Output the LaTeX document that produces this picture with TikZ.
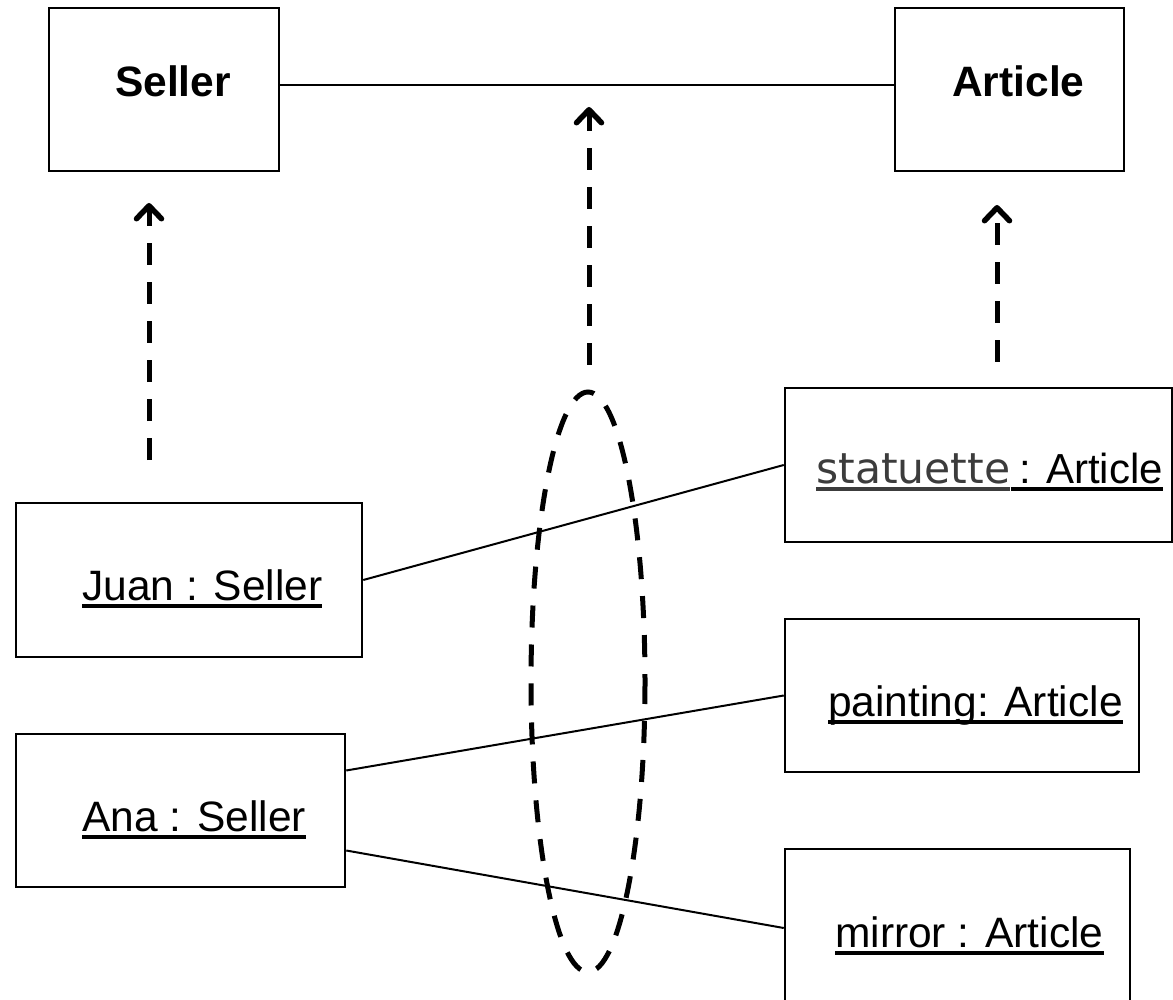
\documentclass[tikz,border=0pt]{standalone}
\usepackage{fontspec}
\setmainfont{Liberation Sans}
\newfontfamily\dejavu{DejaVu Sans}
\usetikzlibrary{arrows.meta}
\definecolor{namegray}{HTML}{3C3C3C}
% underline drawn as a rule in the current colour
\newcommand\ulbox[1]{\setbox0\hbox{#1}\rlap{\rule[-8pt]{\wd0}{4.5pt}}\box0}
\begin{document}
\begin{tikzpicture}[x=1pt,y=-1pt,
  box/.style={draw, line width=2.5pt, rectangle, inner sep=0pt},
  lbl/.style={inner sep=0pt, anchor=base west, font=\fontsize{42.5}{50}\selectfont},
  link/.style={line width=2pt},
  dep/.style={line width=5pt, dash pattern=on 22pt off 17pt,
    -{Straight Barb[length=13pt, width=25pt, line width=5.5pt, round]}},
  group/.style={line width=5pt, dash pattern=on 22pt off 17pt}]
\useasboundingbox (0,0) rectangle (1173,1000);
\clip (0,0) rectangle (1173,1000);

% class boxes
\node[box, minimum width=230pt, minimum height=163pt] (seller) at (164,89.5) {};
\node[box, minimum width=229pt, minimum height=163pt] (article) at (1009.5,89.5) {};
\node[lbl, font=\fontsize{42.5}{50}\selectfont\bfseries] (sellerlbl) at (115,97) {Seller};
\node[lbl, font=\fontsize{42.5}{50}\selectfont\bfseries] (articlelbl) at (952,97) {Article};
\draw[link] ([yshift=4.5pt]seller.east) -- ([yshift=4.5pt]article.west);

% object boxes
\node[box, minimum width=346pt, minimum height=154pt] (juan) at (189,580) {};
\node[box, minimum width=329pt, minimum height=153pt] (ana) at (180.5,810.5) {};
\node[box, minimum width=387pt, minimum height=154pt] (statuette) at (978.5,465) {};
\node[box, minimum width=354pt, minimum height=153pt] (painting) at (962,695.5) {};
\node[box, minimum width=345pt, minimum height=158pt] (mirror) at (957.5,928) {};

\node[lbl] (juanlbl) at (82,600) {\ulbox{Juan : Seller}};
\node[lbl] (analbl) at (82,831) {\ulbox{Ana : Seller}};
\node[lbl, text=namegray, font=\fontsize{42.5}{50}\selectfont\dejavu] (statname) at (816,483) {\ulbox{statuette}};
\node[lbl, font=\fontsize{42}{50}\selectfont] (statclass) at (statname.base east) {\ulbox{\hspace{0.2em}: Article}};
\node[lbl] (paintlbl) at (828,716) {\ulbox{painting: Article}};
\node[lbl] (mirrorlbl) at (835,947) {\ulbox{mirror : Article}};

% links between objects
\draw[link] (juan.east) -- (statuette.west);
\draw[link] ([yshift=40pt]ana.east) -- (painting.west);
\draw[link] ([yshift=-40pt]ana.east) -- (mirror.west);

% instance-of dependencies
\coordinate (tailL) at (149,460);
\coordinate (tipL) at (149,203);
\coordinate (tailM) at (589,365);
\coordinate (tipM) at (589,107);
\coordinate (tailR) at (997,362);
\coordinate (tipR) at (997,205);
\draw[dep] (tailL) -- (tipL);
\draw[dep] (tailM) -- (tipM);
\draw[dep] (tailR) -- (tipR);

% grouping of the links
\draw[group] (588,682) ellipse [x radius=57, y radius=290];
\end{tikzpicture}
\end{document}
